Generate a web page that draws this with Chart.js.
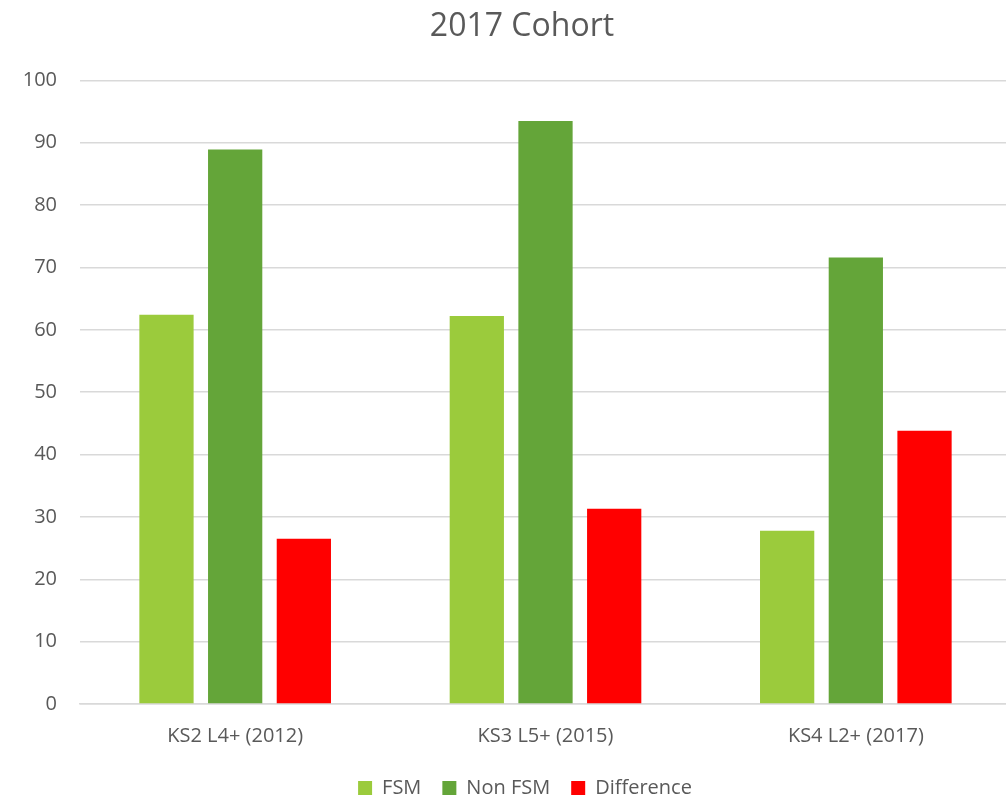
<!DOCTYPE html>
<html>
<head>
<meta charset="utf-8">
<script src="https://cdn.jsdelivr.net/npm/chart.js@4/dist/chart.umd.min.js"></script>
<style>
  html, body { margin: 0; padding: 0; background: #ffffff; overflow: hidden; }
  #wrap { width: 1046px; height: 808px; }
</style>
</head>
<body>
<div id="wrap"><canvas id="c" width="1046" height="808"></canvas></div>
<script>
const chartTitle = '2017 Cohort';
const categories = ['KS2 L4+ (2012)', 'KS3 L5+ (2015)', 'KS4 L2+ (2017)'];
const seriesNames = ['FSM', 'Non FSM', 'Difference'];
const fsm = [62.4, 62.2, 27.8];
const nonFsm = [88.9, 93.5, 71.6];
const difference = [26.5, 31.3, 43.8];
const yTicks = [0, 10, 20, 30, 40, 50, 60, 70, 80, 90, 100];

const colors = ['#9BCB3C', '#64A539', '#FF0000'];
const textColor = '#595959';
const gridColor = '#D9D9D9';

Chart.defaults.font.family = "'Open Sans', sans-serif";
Chart.defaults.color = textColor;

// small horizontal nudge of title and legend boxes (the original chart was cropped on the right)
const nudge = {
  id: 'nudge',
  afterLayout(chart) {
    if (chart.titleBlock) { chart.titleBlock.left += 5; chart.titleBlock.right += 5; }
    if (chart.legend) { chart.legend.left += 8; chart.legend.right += 8; }
  }
};

new Chart(document.getElementById('c'), {
  type: 'bar',
  data: {
    labels: categories,
    datasets: [fsm, nonFsm, difference].map((vals, i) => ({
      label: seriesNames[i],
      data: vals,
      backgroundColor: colors[i],
      borderWidth: 0,
      categoryPercentage: 0.664,
      barPercentage: 0.79
    }))
  },
  plugins: [nudge],
  options: {
    responsive: false,
    animation: false,
    layout: { padding: { left: 23, right: 35, top: 0, bottom: 0 } },
    plugins: {
      title: {
        display: true,
        text: chartTitle,
        color: textColor,
        font: { size: 32, weight: 'normal' },
        padding: { top: 8, bottom: 34 }
      },
      legend: {
        position: 'bottom',
        labels: {
          boxWidth: 14,
          boxHeight: 14,
          padding: 21,
          color: textColor,
          font: { size: 20 }
        }
      },
      tooltip: { enabled: false }
    },
    scales: {
      x: {
        grid: { display: false, drawTicks: false },
        border: { display: true, color: gridColor, width: 1.5 },
        ticks: { padding: 20, color: textColor, font: { size: 20 } },
        afterFit: (s) => { s.height = 53; }
      },
      y: {
        min: yTicks[0],
        max: yTicks[yTicks.length - 1],
        afterBuildTicks: (s) => { s.ticks = yTicks.map(v => ({ value: v })); },
        grid: { color: gridColor, lineWidth: 1.5, drawTicks: false },
        border: { display: false },
        ticks: { padding: 23, color: textColor, font: { size: 20 } },
        afterFit: (s) => { s.width = 57; }
      }
    }
  }
});
</script>
</body>
</html>
